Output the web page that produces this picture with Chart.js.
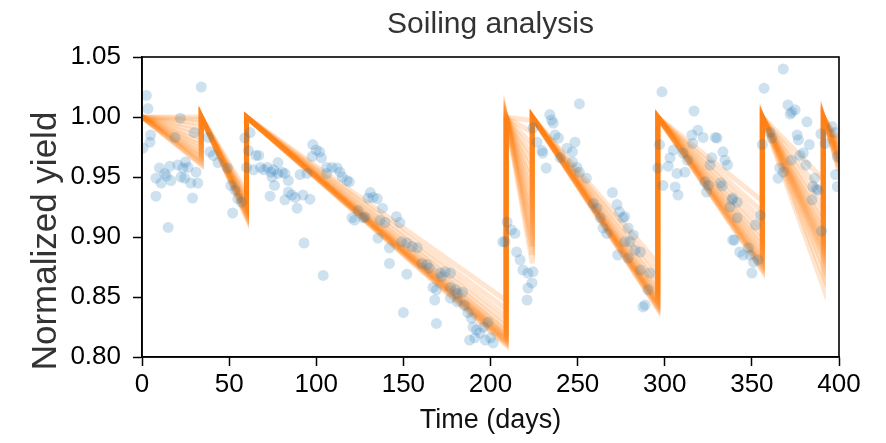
<!DOCTYPE html>
<html>
<head>
<meta charset="utf-8">
<script src="https://cdn.jsdelivr.net/npm/chart.js@4"></script>
<style>
  body { margin: 0; background: #fff; }
</style>
</head>
<body>
<canvas id="myChart" width="886" height="443"></canvas>
<script>
// measured daily yield (normalized)
const days = [
  0.6, 2.5, 3.4, 4.6, 5, 8, 8, 10, 11, 13, 14, 15, 16, 16.6, 19, 20.6, 22, 22.4, 23.5, 24.5,
  25, 26.4, 28, 29, 30, 31, 32, 34, 38, 39, 41, 43.6, 49, 51, 52, 53.4, 55, 57, 59, 60,
  61, 62, 64, 65.4, 67, 68, 70, 72, 73.5, 74, 74.6, 75.5, 76, 78, 78, 80.5, 82, 82, 84, 84,
  86, 88, 89, 90.7, 92.4, 93, 94.7, 96.4, 97.6, 98, 100, 102, 103, 104, 106, 106, 109, 112, 113.6, 115,
  117.6, 119, 120.5, 122, 124, 127, 128, 129.7, 131, 132.6, 135, 135.4, 136.6, 138, 139.5, 142, 142, 146, 148, 149,
  150, 152, 152, 155, 158, 160.7, 163.6, 165, 167, 168, 169, 169, 171, 172, 174, 177, 177, 177, 180, 181,
  181, 184, 185, 187, 188, 189, 190, 191, 192, 194, 196, 197, 198.6, 200, 201.5, 207, 208.3, 209.5, 212, 214,
  215, 217, 218.6, 221, 221.5, 221.5, 223.8, 224.4, 224.4, 226.7, 229.5, 230, 232, 234, 235, 236, 237, 239, 240, 244,
  247, 247, 248.5, 249.6, 251, 251, 255, 259, 261, 263, 264.6, 266.8, 270, 272.6, 273, 274, 276, 277, 277, 279,
  279, 280, 282, 283, 286, 286, 287.5, 288.7, 290.4, 291.5, 296, 297, 298.4, 299, 302, 303, 305, 306, 307, 307.6,
  310.5, 311.6, 313, 315.6, 316, 316.8, 319, 322, 323, 324, 325, 326, 327, 329, 330, 332, 333, 333.4, 334.6, 336,
  337.4, 338.6, 339, 339, 340, 341.6, 341.6, 343, 345, 348, 349, 350, 351, 352, 353.6, 355, 356, 357, 360.4, 361.5,
  365, 366, 368, 368, 370.7, 372, 372.6, 373, 374.8, 376, 376.7, 377.6, 379.5, 381, 381.6, 383, 384.5, 385, 386, 387,
  388, 389.6, 390, 392, 396, 397.7, 398, 399, 399
];
const yields = [
  0.974, 1.018, 1.007, 0.979, 0.985, 0.949, 0.934, 0.9575, 0.945, 0.953, 0.951, 0.908, 0.959, 0.947, 0.983, 0.96, 0.999, 0.95, 0.9575, 0.949,
  0.9625, 0.958, 0.945, 0.9325, 0.987, 0.954, 0.945, 1.025, 0.983, 0.971, 0.968, 0.962, 0.9575, 0.943, 0.92, 0.939, 0.932, 0.929, 0.9825, 0.958,
  0.972, 0.987, 0.956, 0.968, 0.968, 0.958, 0.956, 0.958, 0.934, 0.954, 0.95, 0.956, 0.943, 0.953, 0.962, 0.954, 0.953, 0.931, 0.947, 0.9375,
  0.935, 0.933, 0.924, 0.952, 0.935, 0.895, 0.953, 0.9315, 0.967, 0.977, 0.9725, 0.971, 0.966, 0.868, 0.958, 0.953, 0.958, 0.9575, 0.954, 0.95,
  0.947, 0.946, 0.916, 0.914, 0.922, 0.916, 0.9165, 0.9325, 0.937, 0.933, 0.932, 0.899, 0.914, 0.924, 0.912, 0.891, 0.878, 0.917, 0.912, 0.896,
  0.837, 0.895, 0.869, 0.892, 0.891, 0.878, 0.877, 0.874, 0.858, 0.8475, 0.856, 0.828, 0.87, 0.867, 0.871, 0.87, 0.858, 0.849, 0.856, 0.853,
  0.846, 0.854, 0.843, 0.837, 0.814, 0.8325, 0.825, 0.816, 0.8225, 0.82, 0.825, 0.814, 0.829, 0.816, 0.8117, 0.896, 0.896, 0.9125, 0.906, 0.903,
  0.8875, 0.881, 0.8725, 0.8475, 0.87, 0.8575, 0.8617, 0.871, 0.991, 0.979, 0.972, 0.97, 0.9575, 1.002, 0.9975, 0.995, 0.985, 0.9825, 0.966, 0.974,
  0.971, 0.9625, 0.979, 0.958, 1.011, 0.954, 0.949, 0.928, 0.924, 0.916, 0.9075, 0.903, 0.937, 0.927, 0.885, 0.921, 0.916, 0.896, 0.917, 0.9075,
  0.8825, 0.896, 0.9017, 0.889, 0.8875, 0.8725, 0.8417, 0.8433, 0.856, 0.87, 0.9575, 0.977, 1.021, 0.943, 0.959, 0.966, 0.9725, 0.9417, 0.953, 0.935,
  0.97, 0.954, 0.964, 0.985, 0.978, 1.005, 0.989, 0.983, 0.946, 0.9375, 0.943, 0.96, 0.966, 0.983, 0.9825, 0.945, 0.9425, 0.971, 0.964, 0.96,
  0.925, 0.931, 0.8975, 0.9325, 0.8975, 0.929, 0.916, 0.8875, 0.885, 0.891, 0.885, 0.87, 0.879, 0.91, 0.881, 0.918, 0.977, 1.024, 0.987, 0.9825,
  0.949, 0.9575, 1.04, 0.954, 1.01, 1.0025, 0.964, 1.004, 1.006, 0.985, 0.981, 0.968, 0.97, 0.96, 0.996, 0.977, 0.931, 0.942, 0.949, 0.94,
  0.939, 0.986, 0.905, 0.978, 0.992, 0.987, 0.952, 0.967, 0.942
];

// soiling profiles (monte carlo runs): reset to 1.0 on cleaning days
const cleaningDays = [34, 60, 209, 224, 296, 356, 391];
const resetLevel = 1.0;
const lastDay = 400;
const seg1End = [0.960, 0.961, 0.962, 0.964, 0.966, 0.968, 0.970, 0.973, 0.976, 0.979, 0.983, 0.987, 0.991, 0.995, 0.998, 1.000];
const seg2End = [0.916, 0.917, 0.918, 0.919, 0.920, 0.921, 0.922, 0.923, 0.924, 0.925, 0.926, 0.927, 0.929, 0.931, 0.934, 0.937];
const seg3End = [0.810, 0.811, 0.812, 0.813, 0.814, 0.815, 0.816, 0.817, 0.818, 0.820, 0.822, 0.825, 0.829, 0.834, 0.840, 0.847];
const seg4End = [0.878, 0.885, 0.892, 0.899, 0.906, 0.913, 0.920, 0.928, 0.936, 0.944, 0.952, 0.960, 0.968, 0.977, 0.987, 0.997];
const seg5End = [0.840, 0.841, 0.842, 0.843, 0.844, 0.845, 0.846, 0.847, 0.849, 0.851, 0.853, 0.856, 0.860, 0.865, 0.871, 0.878];
const seg6End = [0.872, 0.873, 0.875, 0.876, 0.878, 0.880, 0.882, 0.885, 0.888, 0.892, 0.896, 0.901, 0.907, 0.914, 0.921, 0.930];
const seg7End = [0.858, 0.868, 0.876, 0.882, 0.886, 0.889, 0.892, 0.895, 0.898, 0.902, 0.906, 0.911, 0.917, 0.925, 0.935, 0.948];
const lastDayValue = [0.955, 0.957, 0.959, 0.961, 0.962, 0.963, 0.965, 0.966, 0.968, 0.969, 0.971, 0.972, 0.974, 0.976, 0.978, 0.981];

const xTicks = [0, 50, 100, 150, 200, 250, 300, 350, 400];
const yTicks = [0.80, 0.85, 0.90, 0.95, 1.00, 1.05];
const yLabel = 'Normalized yield';

const segEnds = [seg1End, seg2End, seg3End, seg4End, seg5End, seg6End, seg7End];

const runs = seg1End.map((_, r) => {
    const pts = [{ x: 0, y: resetLevel }];
    cleaningDays.forEach((d, k) => {
        pts.push({ x: d, y: segEnds[k][r] });
        pts.push({ x: d, y: resetLevel });
    });
    pts.push({ x: lastDay, y: lastDayValue[r] });
    return {
        data: pts,
        showLine: true,
        borderColor: 'rgba(255, 127, 14, 0.2)',
        borderWidth: 5,
        pointRadius: 0,
        order: 1
    };
});

const font = 'Liberation Sans';

// box around the axes + y label placed like the original
const frame = {
    id: 'frame',
    afterDatasetsDraw(chart) {
        const { ctx, chartArea: a } = chart;
        ctx.save();
        ctx.strokeStyle = '#000';
        ctx.lineWidth = 1.6;
        ctx.strokeRect(a.left, a.top, a.right - a.left, a.bottom - a.top);
        ctx.restore();
    },
    afterDraw(chart) {
        const ctx = chart.ctx;
        ctx.save();
        ctx.translate(56, 241);
        ctx.rotate(-Math.PI / 2);
        ctx.fillStyle = '#333';
        ctx.font = '35px "' + font + '"';
        ctx.textAlign = 'center';
        ctx.textBaseline = 'alphabetic';
        ctx.fillText(yLabel, 0, 0);
        ctx.restore();
    }
};

const ctx = document.getElementById('myChart').getContext('2d');

const myChart = new Chart(ctx, {
    type: 'scatter',
    data: {
        datasets: [{
            data: days.map((d, i) => ({ x: d, y: yields[i] })),
            backgroundColor: 'rgba(31, 119, 180, 0.22)',
            borderWidth: 0,
            pointRadius: 5.5,
            order: 0
        }, ...runs]
    },
    options: {
        responsive: false,
        animation: false,
        devicePixelRatio: 1,
        layout: { padding: { top: 0, right: 47, bottom: 0, left: 0 } },
        plugins: {
            legend: { display: false },
            tooltip: { enabled: false },
            title: {
                display: true,
                text: 'Soiling analysis',
                fullSize: false,
                color: '#333',
                font: { family: font, size: 30, weight: 'normal' },
                padding: { top: 7, bottom: 14 }
            }
        },
        scales: {
            x: {
                type: 'linear',
                min: 0,
                max: 400,
                afterBuildTicks: s => { s.ticks = xTicks.map(v => ({ value: v })); },
                afterFit: s => { s.height = 86; },
                grid: { drawOnChartArea: false, tickLength: 9, tickColor: '#000', tickWidth: 1.5 },
                border: { color: '#000', width: 1.6 },
                ticks: { color: '#000', padding: 3, font: { family: font, size: 26 } },
                title: {
                    display: true,
                    text: 'Time (days)',
                    color: '#111',
                    font: { family: font, size: 27 },
                    padding: { top: 0, bottom: 6 }
                }
            },
            y: {
                min: 0.8,
                max: 1.05,
                afterBuildTicks: s => { s.ticks = yTicks.map(v => ({ value: v })); },
                afterFit: s => { s.width = 142; },
                grid: { drawOnChartArea: false, tickLength: 9, tickColor: '#000', tickWidth: 1.5 },
                border: { color: '#000', width: 1.6 },
                ticks: {
                    color: '#000',
                    padding: 12,
                    font: { family: font, size: 26 },
                    callback: v => v.toFixed(2)
                }
            }
        }
    },
    plugins: [frame]
});
</script>
</body>
</html>
